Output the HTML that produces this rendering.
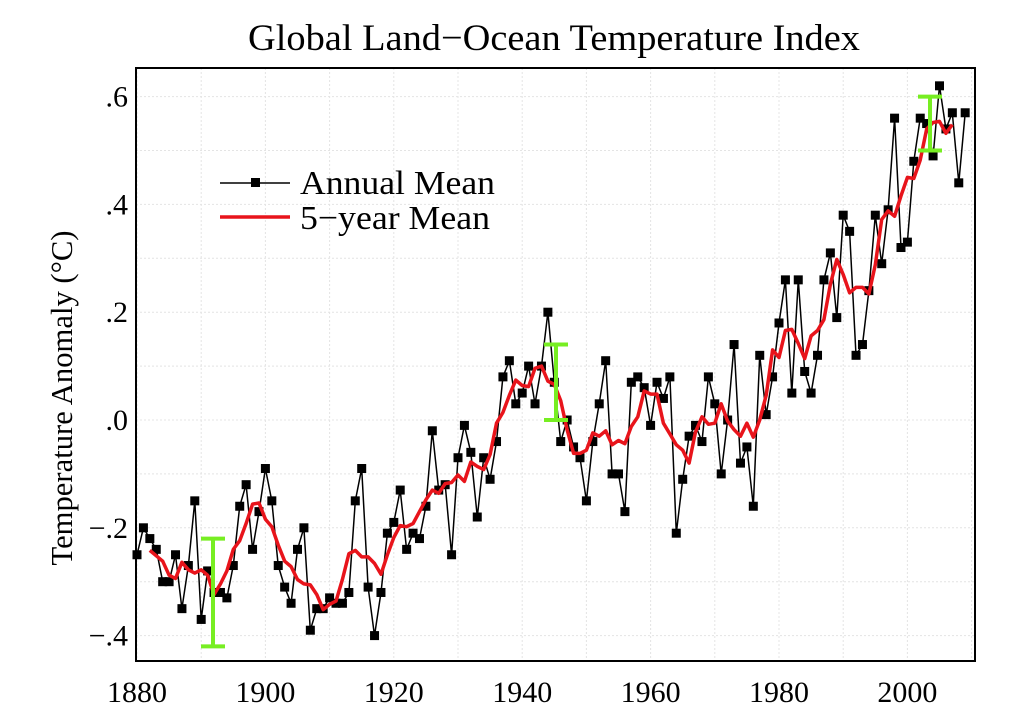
<!DOCTYPE html>
<html><head><meta charset="utf-8"><style>
html,body{margin:0;padding:0;background:#fff;}
svg{display:block;font-family:"Liberation Serif",serif;}
</style></head><body>
<svg id="c" width="1024" height="716" xmlns="http://www.w3.org/2000/svg"></svg>
<script>
var d=[-25,-20,-22,-24,-30,-30,-25,-35,-27,-15,-37,-28,-32,-32,-33,-27,-16,-12,-24,-17,-9,-15,-27,-31,-34,-24,-20,-39,-35,-35,-33,-34,-34,-32,-15,-9,-31,-40,-32,-21,-19,-13,-24,-21,-22,-16,-2,-13,-12,-25,-7,-1,-6,-18,-7,-11,-4,8,11,3,5,10,3,10,20,7,-4,0,-5,-7,-15,-4,3,11,-10,-10,-17,7,8,6,-1,7,4,8,-21,-11,-3,-1,-4,8,3,-10,0,14,-8,-5,-16,12,1,8,18,26,5,26,9,5,12,26,31,19,38,35,12,14,24,38,29,39,56,32,33,48,56,55,49,62,54,57,44,57];
function X(y){return 137+6.42*(y-1880);}
function Y(v){return 420-v*539;}
var s='';
for(var yr=1880;yr<=2010;yr+=10){s+='<line x1="'+X(yr)+'" y1="68" x2="'+X(yr)+'" y2="661" stroke="#e4e4e4" stroke-dasharray="2,2"/>';}
for(var v=-0.5;v<=0.65;v+=0.1){var yy=Y(v);if(yy>68&&yy<661)s+='<line x1="136" y1="'+yy+'" x2="975" y2="'+yy+'" stroke="#e4e4e4" stroke-dasharray="2,2"/>';}
var p=[];for(var i=2;i<d.length-2;i++){var m=(d[i-2]+d[i-1]+d[i]+d[i+1]+d[i+2])/500;p.push(X(1880+i).toFixed(1)+','+Y(m).toFixed(1));}
var a=[];for(var i=0;i<d.length;i++)a.push(X(1880+i).toFixed(1)+','+Y(d[i]/100).toFixed(1));
s+='<polyline points="'+a.join(' ')+'" fill="none" stroke="#000" stroke-width="1.5"/>';
for(var i=0;i<d.length;i++)s+='<rect x="'+(X(1880+i)-4.5)+'" y="'+(Y(d[i]/100)-4.5)+'" width="9" height="9" fill="#000"/>';
s+='<polyline points="'+p.join(' ')+'" fill="none" stroke="#e8141b" stroke-width="3.5" stroke-linejoin="round"/>';
function eb(x,a,b){var g='#77ee22';return '<g stroke="'+g+'" stroke-width="4"><line x1="'+x+'" y1="'+Y(a)+'" x2="'+x+'" y2="'+Y(b)+'"/><line x1="'+(x-12)+'" y1="'+Y(a)+'" x2="'+(x+12)+'" y2="'+Y(a)+'"/><line x1="'+(x-12)+'" y1="'+Y(b)+'" x2="'+(x+12)+'" y2="'+Y(b)+'"/></g>';}
s+=eb(213,-0.42,-0.22)+eb(556,0.0,0.14)+eb(930,0.50,0.60);
s+='<rect x="136" y="68" width="839" height="593" fill="none" stroke="#000" stroke-width="2"/>';
for(var yr=1880;yr<=2000;yr+=20){s+='<text x="'+X(yr)+'" y="702" font-size="30" text-anchor="middle">'+yr+'</text>';}
var yl=[[0.6,'.6'],[0.4,'.4'],[0.2,'.2'],[0,'.0'],[-0.2,'\u2212.2'],[-0.4,'\u2212.4']];
yl.forEach(function(t){s+='<text x="128" y="'+(Y(t[0])+10)+'" font-size="30" text-anchor="end">'+t[1]+'</text>';});
s+='<text x="554" y="50" font-size="37" text-anchor="middle" textLength="612" lengthAdjust="spacingAndGlyphs">Global Land\u2212Ocean Temperature Index</text>';
s+='<text transform="translate(72,398) rotate(-90)" font-size="31" text-anchor="middle" textLength="335" lengthAdjust="spacingAndGlyphs">Temperature Anomaly (°C)</text>';
s+='<line x1="220" y1="183" x2="290" y2="183" stroke="#000" stroke-width="1.5"/><rect x="251" y="178" width="9" height="9" fill="#000"/>';
s+='<text x="300" y="194" font-size="34" textLength="195" lengthAdjust="spacingAndGlyphs">Annual Mean</text>';
s+='<line x1="220" y1="217" x2="290" y2="217" stroke="#e8141b" stroke-width="3.5"/>';
s+='<text x="300" y="229" font-size="34" textLength="190" lengthAdjust="spacingAndGlyphs">5\u2212year Mean</text>';
document.getElementById('c').innerHTML=s;
</script>
</body></html>
